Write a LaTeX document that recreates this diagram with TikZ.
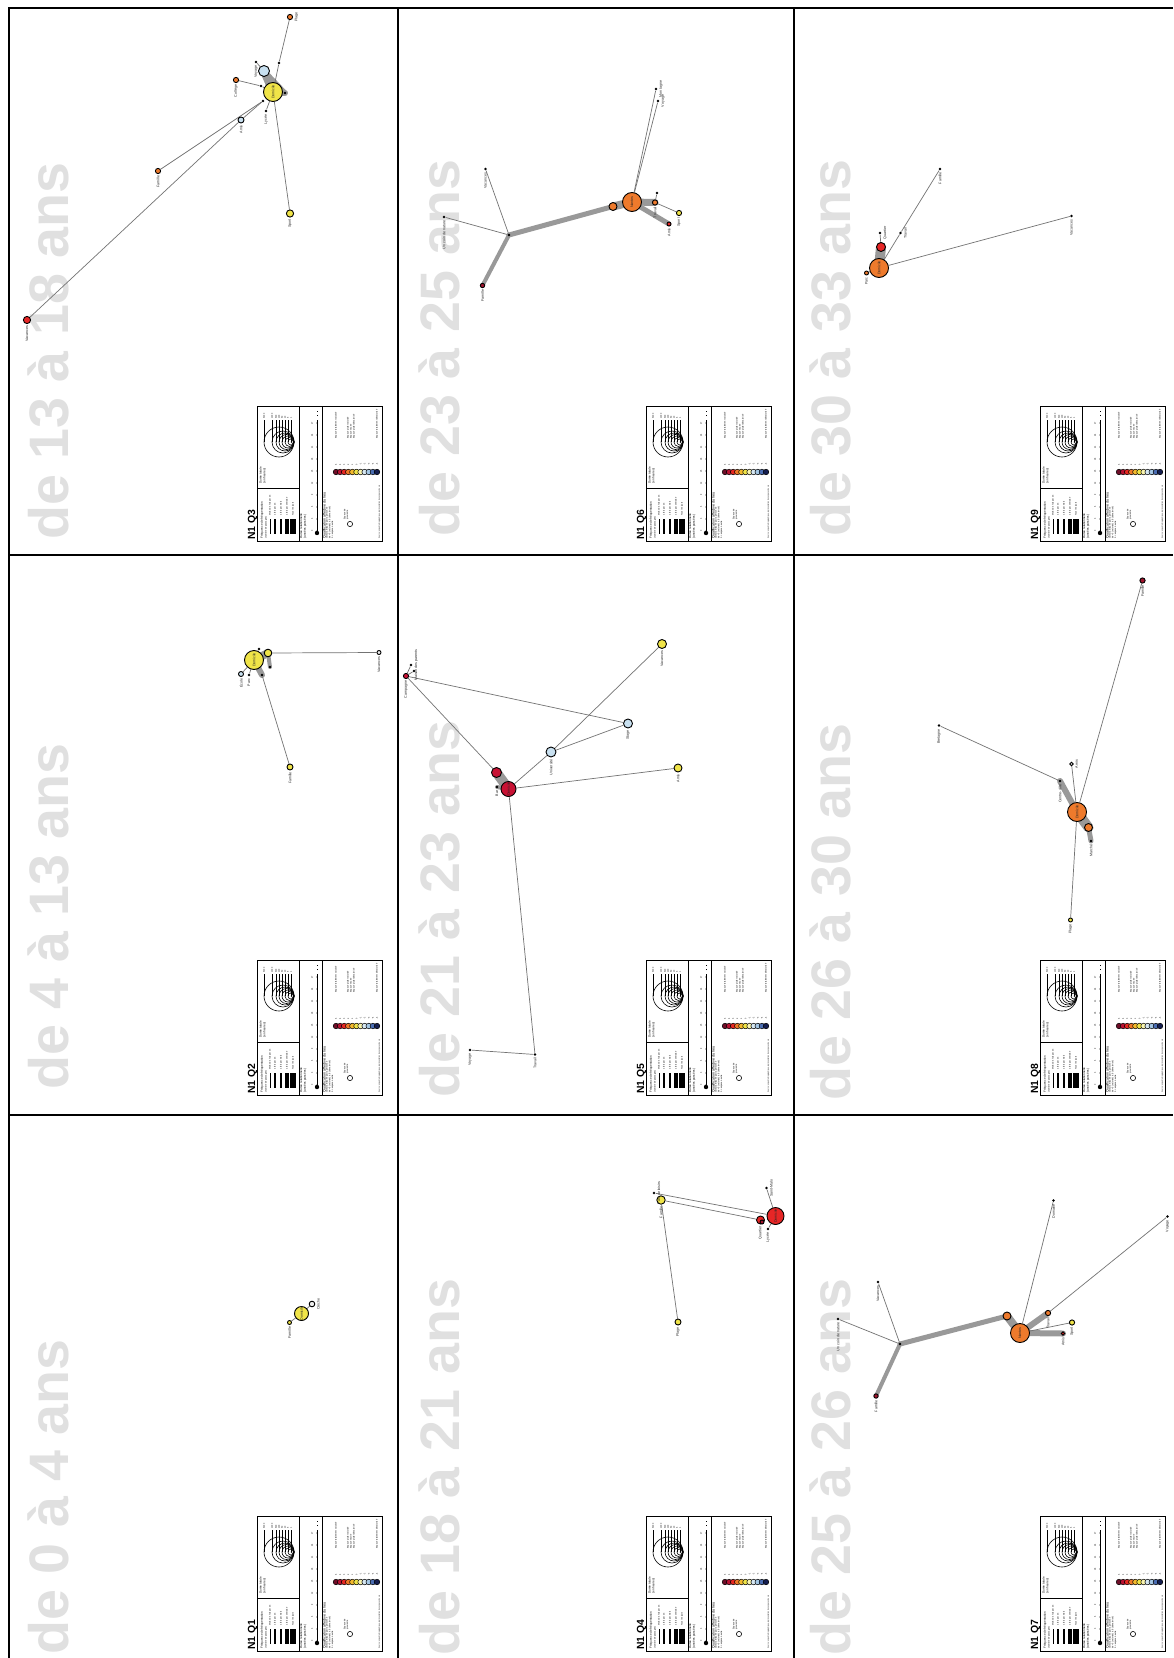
\documentclass[tikz,border=0pt]{standalone}
\usepackage{fontspec}
\setmainfont{Liberation Sans}
\pgfdeclarelayer{back}
\pgfdeclarelayer{edges}
\pgfsetlayers{back,edges,main}
\definecolor{cyel}{RGB}{240,228,72}
\definecolor{corg}{RGB}{238,122,44}
\definecolor{cred}{RGB}{230,38,38}
\definecolor{ccrim}{RGB}{200,18,52}
\definecolor{cblu}{RGB}{200,224,240}
\definecolor{cwht}{RGB}{238,238,238}
\definecolor{cdrd}{RGB}{160,20,45}
\definecolor{sa}{RGB}{110,14,40}
\definecolor{sb}{RGB}{185,18,50}
\definecolor{sc}{RGB}{230,40,35}
\definecolor{sd}{RGB}{240,120,40}
\definecolor{se}{RGB}{245,185,45}
\definecolor{sf}{RGB}{240,228,72}
\definecolor{sg}{RGB}{250,245,175}
\definecolor{sh}{RGB}{215,232,242}
\definecolor{si}{RGB}{165,200,230}
\definecolor{sj}{RGB}{75,110,180}
\definecolor{sk}{RGB}{20,30,80}
\tikzset{
  gridline/.style={line width=1pt, draw=black},
  ttl/.style={rotate=90, anchor=base west, inner sep=0pt, text=black!12, font=\fontsize{27.8}{27.8}\selectfont\bfseries},
  nd/.style={circle, draw=black, line width=0.45pt, inner sep=0pt},
  bdot/.style={circle, fill=black, inner sep=0pt, minimum size=1.4pt},
  thinedge/.style={draw=black!55, line width=0.35pt},
  fatedge/.style={draw=black!40, line cap=round},
  lbl/.style={rotate=90, inner sep=0.2pt, font=\fontsize{1.8}{2}\selectfont, text=black!85},
  tiny/.style={rotate=90, inner sep=0pt, font=\fontsize{1.5}{1.9}\selectfont},
  tinier/.style={rotate=90, inner sep=0pt, font=\fontsize{1.1}{1.4}\selectfont},
  lgframe/.style={line width=0.5pt, draw=black},
  qlabel/.style={rotate=90, anchor=base west, inner sep=0pt, font=\fontsize{5.2}{5.2}\selectfont\bfseries},
}
\newcommand\pn[5]{\node[nd,fill=#5,minimum size=#4pt] (#1) at (#2,#3) {};}
\newcommand\bn[3]{\node[bdot] (#1) at (#2,#3) {};}
\newcommand\lbl[2]{\node[lbl,anchor=east] (#1l) at ([yshift=-0.5pt]#1.south) {#2};}
\newcommand\lbr[2]{\node[lbl,anchor=north] (#1l) at ([xshift=0.4pt]#1.east) {#2};}
\newcommand\legendbox[3]{%
\begin{scope}[shift={(#1,#2)}]
 \node[qlabel] (#3lab) at (-2,134) {N1 #3};
 \draw[lgframe] (0,0) rectangle (125,135);
 \draw[lgframe] (42,0) -- (42,135) (65,0) -- (65,135) (0,82) -- (42,82);
 \node[tiny,anchor=south west,align=left] (#3tsz) at (9.5,78) {Durée totale\\(en heures)};
 \foreach \rr/\tx in {15/5000,11/1000,9/500,7.5/100,6/50,4.5/10,3/5,1.5/1}{
   \draw[line width=0.3pt] ({37-\rr},36) circle[radius=\rr*0.5pt];
   \draw[line width=0.25pt] ({37-2*\rr},36) -- ({37-2*\rr},14);
   \node[tinier,anchor=west] at ({37-2*\rr},13) {\tx};
 }
 \node[tiny,anchor=south west,align=left] (#3tfq) at (10.5,133) {Fréquence de fréquentation\\{\fontsize{1.1}{1.4}\selectfont (nombre de passages)}};
 \foreach \xx/\ww/\tx in {13/0.3/{Moins d'1 fois par an},18/0.6/{1 fois par an},24/1.25/{1 fois par mois},30/2/{1 fois par semaine},36/2.75/{Tous les jours}}{
   \draw[line width=\ww pt] (\xx,113) -- (\xx,128);
   \node[tinier,anchor=west] at (\xx,110) {\tx};
 }
 \node[tiny,anchor=south west,align=left] (#3tdu) at (50,133) {Durée relationnelle\\(années passées)};
 \draw[line width=0.4pt] (60,127) -- (60,15);
 \draw[line width=0.4pt, dotted] (60,15) -- (60,4);
 \fill (60,127) circle[radius=1.1pt];
 \foreach \kk/\vv in {0/0,1/3,2/6,3/9,4/12,5/15,6/18,7/21,8/24,9/27}{
   \node[tinier] at (55,{125-12*\kk}) {\vv};
   \fill (60,{125-12*\kk}) circle[radius=0.35pt];
 }
 \node[rotate=90,inner sep=0pt,font=\fontsize{1.8}{2.1}\selectfont,anchor=south west] (#3tql) at (69.8,133) {Qualification affective du lieu};
 \node[tinier,anchor=south west,align=left] at (77,133) {valeur attribuée par la personne\\de +5 (valorisé) à -5 (dévalorisé)\\0 = espace neutre};
 \node[circle,draw,line width=0.3pt,inner sep=0pt,minimum size=2.6pt] (#3prox) at (93,118) {};
 \node[tinier,anchor=south west,align=left] at (92,114) {Espace de\\proximité};
 \foreach \ii/\cc/\vv in {0/sa/5,1/sb/4,2/sc/3,3/sd/2,4/se/1,5/sf/0,6/sg/-1,7/sh/-2,8/si/-3,9/sj/-4,10/sk/-5}{
   \node[circle,draw,line width=0.25pt,fill=\cc,inner sep=0pt,minimum size=2.8pt] at ({79+4.1*\ii},66) {};
   \node[tinier,anchor=west] at ({79+4.1*\ii},60) {\vv};
 }
 \node[tinier,anchor=west] at (79,33) {Espace totalement valorisé};
 \node[tinier,anchor=west] at (91,33) {Espace plutôt valorisé};
 \node[tinier,anchor=west] at (94,33) {Espace neutre};
 \node[tinier,anchor=west] at (97,33) {Espace plutôt dévalorisé};
 \node[tinier,anchor=west] at (120,33) {Espace totalement dévalorisé};
 \node[rotate=90,inner sep=0pt,font=\fontsize{0.9}{1}\selectfont,anchor=west] at (122.5,133) {Source : enquête biographique, représentation des espaces de vie};
\end{scope}}

\begin{document}
\begin{tikzpicture}[x=0.5pt,y=-0.5pt]
\useasboundingbox (0,0) rectangle (1173,1658);
\begin{pgfonlayer}{back}
 \fill[white] (0,0) rectangle (1173,1658);
 \node[ttl] (t3) at (68,540) {de 13 à 18 ans};
 \node[ttl] (t2) at (68,1090) {de 4 à 13 ans};
 \node[ttl] (t1) at (68,1655) {de 0 à 4 ans};
 \node[ttl] (t6) at (459,537) {de 23 à 25 ans};
 \node[ttl] (t5) at (459,1098) {de 21 à 23 ans};
 \node[ttl] (t4) at (459,1656) {de 18 à 21 ans};
 \node[ttl] (t9) at (850,537) {de 30 à 33 ans};
 \node[ttl] (t8) at (850,1101) {de 26 à 30 ans};
 \node[ttl] (t7) at (850,1656) {de 25 à 26 ans};
\end{pgfonlayer}
% grid
\draw[gridline] (8.5,1658) -- (8.5,8.5) -- (1173,8.5);
\draw[gridline] (397.7,8.5) -- (397.7,1658) (794.3,8.5) -- (794.3,1658);
\draw[gridline] (8.5,555.3) -- (1173,555.3) (8.5,1114.8) -- (1173,1114.8);
% legends
\legendbox{257}{406}{Q3}
\legendbox{257}{960}{Q2}
\legendbox{257}{1516}{Q1}
\legendbox{646}{406}{Q6}
\legendbox{646}{960}{Q5}
\legendbox{646}{1516}{Q4}
\legendbox{1040}{406}{Q9}
\legendbox{1040}{960}{Q8}
\legendbox{1040}{1516}{Q7}

% ---------- Q3
\pn{q3a}{273}{92}{9.5}{cyel}
\pn{q3b}{264}{71}{5.5}{cblu}
\bn{q3k}{285}{93}
\pn{q3c}{290}{17}{2.6}{corg}
\bn{q3d}{279}{63}
\pn{q3e}{236}{80}{2.6}{corg}
\bn{q3f}{261}{86}
\pn{q3g}{241}{120}{3}{cblu}
\pn{q3h}{27}{320}{3.6}{cred}
\bn{q3i}{263}{101}
\pn{q3j}{158}{171}{2.6}{corg}
\pn{q3l}{290}{213.5}{3.6}{cyel}
\bn{q3m}{256}{62}
\bn{q3n}{266}{111}
\begin{pgfonlayer}{edges}
 \draw[fatedge,line width=4pt] (q3b.center) -- (q3a.center);
 \draw[fatedge,line width=2.5pt] (q3b.center) -- (q3k.center);
 \draw[fatedge,line width=3pt] (q3a.center) -- (q3k.center);
 \draw[thinedge] (q3c) -- (q3d) -- (q3a);
 \draw[thinedge] (q3e) -- (q3f) -- (q3a);
 \draw[thinedge] (q3i) -- (q3g) -- (q3h);
 \draw[thinedge] (q3i) -- (q3j);
 \draw[thinedge] (q3a) -- (q3l);
 \draw[thinedge] (q3m) -- (q3b);
 \draw[thinedge] (q3n) -- (q3a);
\end{pgfonlayer}
\node[lbl] (q3al) at (q3a) {Domicile};
\lbl{q3h}{Vacances}
\lbl{q3j}{Famille}
\lbl{q3e}{Collège}
\lbl{q3g}{Amis}
\lbl{q3l}{Sport}
\lbr{q3c}{Plage}
\lbl{q3n}{Lycée}
\lbl{q3m}{Voyage}

% ---------- Q2
\pn{q2a}{254}{660}{9.5}{cyel}
\pn{q2b}{268}{653}{3.8}{cyel}
\pn{q2c}{241}{674}{2.5}{cblu}
\bn{q2d}{262}{675}
\pn{q2e}{379}{652.5}{2}{cwht}
\pn{q2f}{290}{767}{3}{cyel}
\bn{q2g}{259}{649}
\bn{q2h}{270}{667}
\bn{q2i}{249}{675}
\begin{pgfonlayer}{edges}
 \draw[fatedge,line width=4pt] (q2a.center) -- (q2b.center);
 \draw[fatedge,line width=3pt] (q2a.center) -- (q2d.center);
 \draw[fatedge,line width=2pt] (q2b.center) -- (q2h.center);
 \draw[thinedge] (q2b) -- (q2e);
 \draw[thinedge] (q2d) -- (q2f);
 \draw[thinedge] (q2a) -- (q2c);
 \draw[thinedge] (q2g) -- (q2a);
 \draw[thinedge] (q2i) -- (q2a);
\end{pgfonlayer}
\node[lbl] (q2al) at (q2a) {Domicile};
\lbl{q2c}{École}
\lbl{q2e}{Vacances}
\lbl{q2f}{Famille}
\lbl{q2i}{Parc}

% ---------- Q1
\pn{q1a}{301.5}{1313.5}{7}{cyel}
\pn{q1b}{312}{1304}{2.8}{cwht}
\pn{q1c}{289.5}{1322.5}{2}{cyel}
\begin{pgfonlayer}{edges}
 \draw[thinedge] (q1a) -- (q1b);
 \draw[thinedge] (q1a) -- (q1c);
\end{pgfonlayer}
\node[lbl] (q1al) at (q1a) {Domicile};
\lbl{q1c}{Famille}
\lbr{q1b}{Crèche}

% ---------- Q6
\pn{q6a}{632}{202}{9.5}{corg}
\pn{q6b}{613}{206.5}{4}{corg}
\bn{q6h}{509}{235}
\pn{q6c}{482.5}{285.5}{2.2}{cdrd}
\bn{q6d}{444}{217}
\bn{q6e}{485.5}{169}
\bn{q6f}{658}{101}
\bn{q6g}{656}{89}
\pn{q6i}{655}{202.5}{2.6}{corg}
\pn{q6j}{679}{213}{2.6}{cyel}
\pn{q6k}{669}{224}{2}{cred}
\bn{q6l}{657}{193}
\begin{pgfonlayer}{edges}
 \draw[fatedge,line width=4pt] (q6a.center) -- (q6b.center);
 \draw[fatedge,line width=2.5pt] (q6b.center) -- (q6h.center);
 \draw[fatedge,line width=2pt] (q6h.center) -- (q6c.center);
 \draw[fatedge,line width=3.5pt] (q6a.center) -- (q6i.center);
 \draw[fatedge,line width=2.5pt] (q6a.center) -- (q6k.center);
 \draw[thinedge] (q6h) -- (q6d);
 \draw[thinedge] (q6h) -- (q6e);
 \draw[thinedge] (q6a) -- (q6f);
 \draw[thinedge] (q6a) -- (q6g);
 \draw[thinedge] (q6i) -- (q6j);
 \draw[thinedge] (q6l) -- (q6i);
\end{pgfonlayer}
\node[lbl] (q6al) at (q6a) {Nantes};
\lbl{q6c}{Famille}
\lbl{q6d}{Un coin de nature}
\lbl{q6e}{Vacances}
\lbr{q6f}{Voyage}
\lbr{q6g}{Montagne}
\lbl{q6i}{Travail}
\lbl{q6j}{Sport}
\lbl{q6k}{Amis}

% ---------- Q5
\pn{q5a}{508.5}{789}{7.5}{ccrim}
\pn{q5b}{496.5}{772.5}{5}{ccrim}
\pn{q5c}{406}{676}{2.6}{ccrim}
\bn{q5d}{411}{665}
\bn{q5e}{414}{671}
\pn{q5f}{551}{752}{5}{cblu}
\pn{q5g}{628}{723.5}{4.5}{cblu}
\pn{q5h}{662}{644}{4.5}{cyel}
\pn{q5i}{678}{768}{4}{cyel}
\bn{q5j}{535}{1054.5}
\bn{q5k}{470}{1050}
\bn{q5l}{497}{787}
\begin{pgfonlayer}{edges}
 \draw[fatedge,line width=5pt] (q5a.center) -- (q5b.center);
 \draw[fatedge,line width=2pt] (q5a.center) -- (q5l.center);
 \draw[thinedge] (q5c) -- (q5b);
 \draw[thinedge] (q5c) -- (q5g);
 \draw[thinedge] (q5a) -- (q5f);
 \draw[thinedge] (q5f) -- (q5h);
 \draw[thinedge] (q5f) -- (q5g);
 \draw[thinedge] (q5a) -- (q5i);
 \draw[thinedge] (q5a) -- (q5j);
 \draw[thinedge] (q5j) -- (q5k);
 \draw[thinedge] (q5d) -- (q5c);
 \draw[thinedge] (q5e) -- (q5c);
\end{pgfonlayer}
\node[lbl] (q5al) at (q5a) {Domicile};
\lbl{q5c}{Campagne}
\lbr{q5d}{Maison des parents}
\lbl{q5f}{Université}
\lbl{q5g}{Stage}
\lbl{q5h}{Vacances}
\lbl{q5i}{Amis}
\lbl{q5j}{Travail}
\lbl{q5k}{Voyage}
\lbl{q5l}{Bar}

% ---------- Q4
\pn{q4a}{775.5}{1216}{8.5}{cred}
\pn{q4b}{760.5}{1220}{4}{cred}
\pn{q4c}{762}{1222}{2}{cdrd}
\bn{q4d}{768}{1229}
\bn{q4e}{766.5}{1188}
\pn{q4f}{661}{1200}{4.2}{cyel}
\bn{q4g}{654}{1193}
\pn{q4h}{678}{1322}{3}{cyel}
\begin{pgfonlayer}{edges}
 \draw[thinedge] (q4a) -- (q4e);
 \draw[thinedge] (q4f) -- (q4b);
 \draw[thinedge] (q4g) -- (q4a);
 \draw[thinedge] (q4f) -- (q4h);
 \draw[thinedge] (q4d) -- (q4a);
\end{pgfonlayer}
\node[lbl] (q4al) at (q4a) {Domicile};
\lbl{q4b}{Quartier}
\lbl{q4d}{Lycée}
\lbr{q4e}{Saint-Malo}
\lbl{q4f}{Famille}
\lbr{q4g}{Parc de loisirs}
\lbl{q4h}{Plage}

% ---------- Q9
\pn{q9a}{879}{268}{9.5}{corg}
\pn{q9b}{881}{247}{4.5}{cred}
\pn{q9c}{866.5}{273}{2}{corg}
\bn{q9d}{900.5}{233}
\bn{q9e}{940}{169}
\bn{q9f}{1071.5}{216}
\bn{q9g}{880}{233}
\begin{pgfonlayer}{edges}
 \draw[fatedge,line width=5pt] (q9a.center) -- (q9b.center);
 \draw[thinedge] (q9a) -- (q9d) -- (q9e);
 \draw[thinedge] (q9a) -- (q9f);
 \draw[thinedge] (q9c) -- (q9a);
 \draw[thinedge] (q9g) -- (q9b);
\end{pgfonlayer}
\node[lbl] (q9al) at (q9a) {Domicile};
\lbl{q9c}{Parc}
\lbr{q9d}{Travail}
\lbl{q9e}{Famille}
\lbl{q9f}{Vacances}
\lbr{q9g}{Quartier}

% ---------- Q8
\pn{q8a}{1077}{812}{9.5}{corg}
\pn{q8b}{1088.5}{827.5}{4}{corg}
\bn{q8c}{1091}{841}
\bn{q8d}{1060}{781}
\bn{q8e}{939}{725.5}
\pn{q8f}{1071.5}{764}{1.8}{cwht}
\pn{q8g}{1142.5}{580.5}{2.6}{cdrd}
\pn{q8h}{1070.5}{920}{2}{cyel}
\begin{pgfonlayer}{edges}
 \draw[fatedge,line width=3pt] (q8a.center) -- (q8d.center);
 \draw[fatedge,line width=5pt] (q8a.center) -- (q8b.center);
 \draw[fatedge,line width=2.5pt] (q8b.center) -- (q8c.center);
 \draw[thinedge] (q8e) -- (q8d);
 \draw[thinedge] (q8a) -- (q8f);
 \draw[thinedge] (q8a) -- (q8g);
 \draw[thinedge] (q8a) -- (q8h);
\end{pgfonlayer}
\node[lbl] (q8al) at (q8a) {Domicile};
\lbl{q8d}{Centre-ville}
\lbl{q8e}{Bretagne}
\lbr{q8f}{Amis}
\lbl{q8g}{Famille}
\lbl{q8h}{Plage}
\lbl{q8c}{Marché}

% ---------- Q7
\pn{q7a}{1020}{1333}{9.5}{corg}
\pn{q7b}{1007}{1316}{4}{corg}
\bn{q7h}{900}{1344}
\pn{q7c}{1048}{1313}{2.6}{corg}
\pn{q7d}{1072}{1322.5}{2.6}{cyel}
\pn{q7e}{1063}{1333.5}{1.8}{cred}
\bn{q7f}{1053.5}{1200.5}
\bn{q7g}{1167.5}{1216.5}
\bn{q7i}{878}{1282}
\bn{q7j}{838}{1319}
\pn{q7k}{876}{1396}{2.2}{cdrd}
\begin{pgfonlayer}{edges}
 \draw[fatedge,line width=4pt] (q7a.center) -- (q7b.center);
 \draw[fatedge,line width=2.5pt] (q7b.center) -- (q7h.center);
 \draw[fatedge,line width=3pt] (q7a.center) -- (q7c.center);
 \draw[fatedge,line width=3pt] (q7a.center) -- (q7e.center);
 \draw[fatedge,line width=2pt] (q7h.center) -- (q7k.center);
 \draw[thinedge] (q7a) -- (q7f);
 \draw[thinedge] (q7c) -- (q7g);
 \draw[thinedge] (q7a) -- (q7d);
 \draw[thinedge] (q7h) -- (q7i);
 \draw[thinedge] (q7h) -- (q7j);
\end{pgfonlayer}
\node[lbl] (q7al) at (q7a) {Nantes};
\lbl{q7c}{Travail}
\lbl{q7d}{Sport}
\lbl{q7e}{Amis}
\lbl{q7f}{Domaine}
\lbl{q7g}{Voyage}
\lbl{q7i}{Vacances}
\lbl{q7j}{Un coin de nature}
\lbl{q7k}{Famille}
\end{tikzpicture}
\end{document}
